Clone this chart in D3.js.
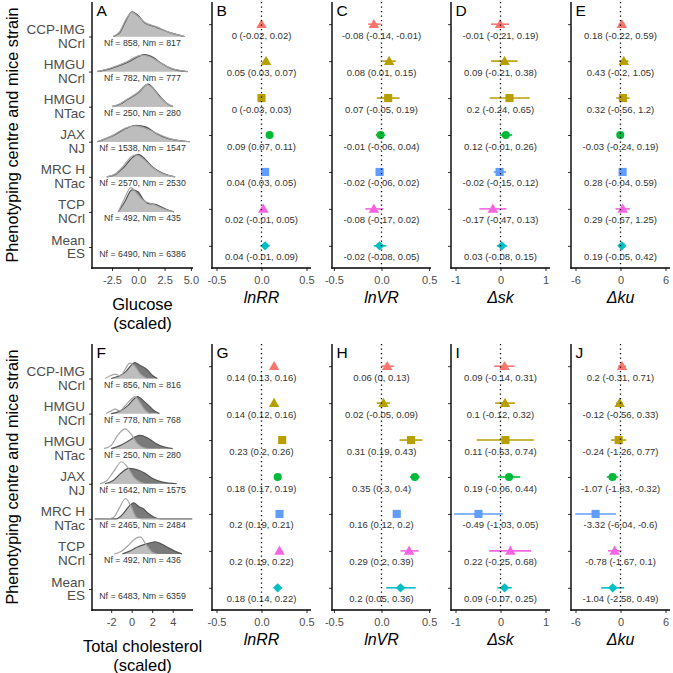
<!DOCTYPE html>
<html><head><meta charset="utf-8">
<script src="https://cdn.jsdelivr.net/npm/d3@7"></script>
<style>body{margin:0;background:#fff} text{font-family:"Liberation Sans",Arial,Helvetica,sans-serif}</style>
</head><body><svg id="c" width="673" height="673"></svg>
<script>
// ---------------- DATA ----------------
const rowLabels = [["CCP-IMG","NCrl"],["HMGU","NCrl"],["HMGU","NTac"],["JAX","NJ"],["MRC H","NTac"],["TCP","NCrl"],["Mean","ES"]];
const rowColors = ["#F8766D","#B79F00","#B79F00","#00BA38","#619CFF","#F564E3","#00BFC4"];
const rowShapes = ["triangle","triangle","square","circle","square","triangle","diamond"];

const glucoseN = ["Nf = 858, Nm = 817","Nf = 782, Nm = 777","Nf = 250, Nm = 280","Nf = 1538, Nm = 1547","Nf = 2570, Nm = 2530","Nf = 492, Nm = 435","Nf = 6490, Nm = 6386"];
const cholN = ["Nf = 856, Nm = 816","Nf = 778, Nm = 768","Nf = 250, Nm = 280","Nf = 1642, Nm = 1575","Nf = 2465, Nm = 2484","Nf = 492, Nm = 436","Nf = 6483, Nm = 6359"];

// density curves: [x, density]
const glucoseDensF = [
  [[-2.4,0],[-1.8,0.08],[-1.2,0.3],[-0.6,0.44],[0,0.36],[0.6,0.26],[1.7,0.18],[3.0,0.07],[4.4,0]],
  [[-3.9,0],[-2.7,0.06],[-1.1,0.18],[0.3,0.3],[1.2,0.26],[2.0,0.17],[3.0,0.07],[4.7,0]],
  [[-2.5,0],[-1.8,0.05],[-1.1,0.13],[0.1,0.28],[0.8,0.4],[1.4,0.33],[2.0,0.18],[2.7,0.06],[3.3,0]],
  [[-3.9,0],[-2.4,0.12],[-1.2,0.25],[-0.3,0.29],[0.6,0.25],[1.7,0.16],[2.8,0.07],[3.6,0.03],[4.9,0]],
  [[-3.0,0],[-2.2,0.05],[-1.4,0.2],[-0.7,0.36],[-0.2,0.4],[0.4,0.34],[1.4,0.16],[2.4,0.05],[3.5,0]],
  [[-1.9,0],[-1.3,0.25],[-0.7,0.44],[-0.2,0.35],[0.4,0.22],[0.9,0.17],[1.5,0.13],[2.1,0.08],[2.8,0.03],[3.4,0]],
  null
];
const glucoseDensM = [
  [[-2.4,0],[-1.8,0.06],[-1.2,0.28],[-0.6,0.45],[0,0.38],[0.6,0.25],[1.7,0.17],[3.0,0.07],[4.4,0]],
  [[-3.9,0],[-2.7,0.05],[-1.1,0.16],[0.6,0.31],[1.4,0.26],[2.2,0.15],[3.2,0.05],[4.7,0]],
  [[-2.5,0],[-1.8,0.04],[-1.1,0.12],[0.1,0.27],[0.9,0.41],[1.5,0.32],[2.0,0.2],[2.7,0.06],[3.3,0]],
  [[-3.9,0],[-2.4,0.11],[-1.2,0.24],[-0.2,0.3],[0.7,0.27],[1.7,0.15],[2.8,0.06],[3.6,0.03],[4.9,0]],
  [[-3.0,0],[-2.2,0.04],[-1.4,0.17],[-0.5,0.36],[0.0,0.41],[0.6,0.33],[1.4,0.17],[2.4,0.06],[3.5,0]],
  [[-1.9,0],[-1.3,0.18],[-0.6,0.4],[0,0.36],[0.5,0.22],[1.0,0.15],[1.6,0.14],[2.2,0.09],[2.9,0.03],[3.4,0]],
  null
];
const cholDensF = [
  [[-2.6,0],[-2.2,0.04],[-1.6,0.08],[-1.1,0.05],[-0.6,0.18],[-0.2,0.28],[0.4,0.2],[0.8,0.09],[1.5,0]],
  [[-2.5,0],[-2.0,0.05],[-1.6,0.08],[-1.2,0.05],[-0.6,0.15],[0,0.27],[0.3,0.31],[0.8,0.2],[1.3,0.06],[1.8,0]],
  [[-2.7,0],[-2.0,0.06],[-1.3,0.26],[-0.65,0.36],[0,0.25],[0.5,0.1],[1.0,0.03],[1.6,0]],
  [[-3.1,0],[-2.4,0.06],[-1.7,0.24],[-1.0,0.4],[-0.4,0.3],[0.2,0.12],[0.8,0.03],[1.4,0]],
  [[-3.6,0],[-2.4,0],[-1.75,0.03],[-1.2,0.2],[-0.6,0.37],[-0.1,0.24],[0.5,0.02],[1.0,0],[5.9,0]],
  [[-1.7,0],[-1.0,0.05],[-0.3,0.16],[0.3,0.27],[0.85,0.31],[1.4,0.17],[2.0,0.03],[2.5,0]],
  null
];
const cholDensM = [
  [[-2.0,0],[-1.3,0.04],[-0.6,0.12],[0,0.25],[0.3,0.29],[0.8,0.24],[1.5,0.16],[2.0,0.06],[2.5,0]],
  [[-2.0,0],[-1.2,0.04],[-0.4,0.14],[0.3,0.28],[0.6,0.31],[1.1,0.24],[1.7,0.14],[2.2,0.05],[2.7,0]],
  [[-2.0,0],[-1.2,0.05],[-0.4,0.13],[0.3,0.21],[0.8,0.24],[1.5,0.2],[2.3,0.1],[3.2,0.03],[4.0,0]],
  [[-2.6,0],[-1.8,0.06],[-1.0,0.2],[-0.3,0.28],[0.4,0.26],[1.2,0.2],[2.0,0.1],[3.0,0.03],[4.4,0]],
  [[-3.6,0],[-1.5,0],[-0.8,0.1],[-0.2,0.24],[0.2,0.29],[0.7,0.22],[1.1,0.19],[1.6,0.1],[2.2,0.03],[2.8,0],[5.9,0]],
  [[-0.9,0],[-0.2,0.05],[0.5,0.12],[1.2,0.17],[1.8,0.2],[2.3,0.22],[2.9,0.18],[3.5,0.12],[4.2,0.05],[4.9,0]],
  null
];

// forest estimates [estimate, lower, upper]
const gluLnRR = [[0,-0.02,0.02],[0.05,0.03,0.07],[0,-0.03,0.03],[0.09,0.07,0.11],[0.04,0.03,0.05],[0.02,-0.01,0.05],[0.04,-0.01,0.09]];
const gluLnVR = [[-0.08,-0.14,-0.01],[0.08,0.01,0.15],[0.07,-0.05,0.19],[-0.01,-0.06,0.04],[-0.02,-0.06,0.02],[-0.08,-0.17,0.02],[-0.02,-0.08,0.05]];
const gluDsk  = [[-0.01,-0.21,0.19],[0.09,-0.21,0.38],[0.2,-0.24,0.65],[0.12,-0.01,0.26],[-0.02,-0.15,0.12],[-0.17,-0.47,0.13],[0.03,-0.08,0.15]];
const gluDku  = [[0.18,-0.22,0.59],[0.43,-0.2,1.05],[0.32,-0.56,1.2],[-0.03,-0.24,0.19],[0.28,-0.04,0.59],[0.29,-0.67,1.25],[0.19,-0.05,0.42]];
const cholLnRR = [[0.14,0.13,0.16],[0.14,0.12,0.16],[0.23,0.2,0.26],[0.18,0.17,0.19],[0.2,0.19,0.21],[0.2,0.19,0.22],[0.18,0.14,0.22]];
const cholLnVR = [[0.06,0,0.13],[0.02,-0.05,0.09],[0.31,0.19,0.43],[0.35,0.3,0.4],[0.16,0.12,0.2],[0.29,0.2,0.39],[0.2,0.05,0.36]];
const cholDsk  = [[0.09,-0.14,0.31],[0.1,-0.12,0.32],[0.11,-0.53,0.74],[0.19,-0.06,0.44],[-0.49,-1.03,0.05],[0.22,-0.25,0.68],[0.09,-0.07,0.25]];
const cholDku  = [[0.2,-0.31,0.71],[-0.12,-0.56,0.33],[-0.24,-1.26,0.77],[-1.07,-1.83,-0.32],[-3.32,-6.04,-0.6],[-0.78,-1.67,0.1],[-1.04,-2.58,0.49]];

const forestTitles = ["lnRR","lnVR","\u0394sk","\u0394ku"];
const forestDomains = [[-0.55,0.55],[-0.52,0.52],[-1.1,1.1],[-6.6,6.6]];
const forestTicks = [[-0.5,0,0.5],[-0.5,0,0.5],[-1,0,1],[-6,0,6]];
const forestDecimals = [1,1,0,0];
const gluTicks = [-2.5,0,2.5,5];
const cholTicks = [-2,0,2,4];

// ---------------- LAYOUT ----------------
const svg = d3.select("#c");
const rows = rowLabels.map(d => d.join(" "));
const ridgeLeft = 92, ridgeRight = 193;
const forestLefts = [212, 332, 451, 571];
const forestWidth = 99;
const axisCol = "#000", tickTextCol = "#4d4d4d";

function fmt(v){ return v.toString(); }

function axisLines(g, x0, x1, top, bottom){
  g.append("line").attr("x1",x0).attr("x2",x0).attr("y1",top).attr("y2",bottom+0.7)
    .attr("stroke",axisCol).attr("stroke-width",1.4);
  g.append("line").attr("x1",x0-0.7).attr("x2",x1).attr("y1",bottom).attr("y2",bottom)
    .attr("stroke",axisCol).attr("stroke-width",1.4);
}
function styleAxis(sel){
  sel.select(".domain").remove();
  sel.selectAll(".tick line").attr("stroke","#333").attr("stroke-width",1);
  sel.selectAll(".tick text").attr("fill",tickTextCol).attr("font-size",11)
     .attr("font-family",'"Liberation Sans",Arial,sans-serif');
}

function shapePath(shape){
  if (shape==="triangle") return d3.symbol(d3.symbolTriangle, 48)();
  if (shape==="square") return d3.symbol(d3.symbolSquare, 66)();
  if (shape==="circle") return d3.symbol(d3.symbolCircle, 52)();
  return null;
}

function ridgePanel(top, bottom, domain, ticks, tickDec, densF, densM, nText, titleLines, letter){
  const g = svg.append("g");
  const x = d3.scaleLinear().domain(domain).range([ridgeLeft, ridgeRight]);
  const y = d3.scalePoint().domain(rows).range([top+34.5, bottom-21]);
  const h = d3.scaleLinear().domain([0,1]).range([0,55]);
  rows.forEach((r,i)=>{
    const base = y(r);
    const area = d3.area().curve(d3.curveMonotoneX).x(p=>x(p[0])).y0(base).y1(p=>base-h(p[1]));
    const line = d3.line().curve(d3.curveMonotoneX).x(p=>x(p[0])).y(p=>base-h(p[1]));
    if (densM[i]) g.append("path").attr("d",area(densM[i])).attr("fill","#7a7a7a");
    if (densF[i]) g.append("path").attr("d",area(densF[i])).attr("fill","#fff").attr("fill-opacity",0.5);
    if (densM[i]) g.append("path").attr("d",line(densM[i])).attr("fill","none").attr("stroke","#555").attr("stroke-width",1.2);
    if (densF[i]) g.append("path").attr("d",line(densF[i])).attr("fill","none").attr("stroke","#a5a5a5").attr("stroke-width",1.2);
  });
  rows.forEach((r,i)=>{
    g.append("text").attr("x",(ridgeLeft+ridgeRight)/2).attr("y",y(r)+9.5)
      .attr("text-anchor","middle").attr("font-size",8.8).attr("fill","#333").text(nText[i]);
    g.append("text").attr("x",85).attr("y",y(r)-2.5).attr("text-anchor","end")
      .attr("font-size",13.5).attr("fill",tickTextCol).text(rowLabels[i][0]);
    g.append("text").attr("x",85).attr("y",y(r)+11.3).attr("text-anchor","end")
      .attr("font-size",13.5).attr("fill",tickTextCol).text(rowLabels[i][1]);
  });
  const ay = g.append("g").attr("transform",`translate(${ridgeLeft},0)`)
    .call(d3.axisLeft(y).tickSize(3).tickFormat(""));
  styleAxis(ay);
  const ax = g.append("g").attr("transform",`translate(0,${bottom})`)
    .call(d3.axisBottom(x).tickValues(ticks).tickSize(3).tickPadding(5).tickFormat(v=>v.toFixed(tickDec)));
  styleAxis(ax);
  axisLines(g, ridgeLeft, ridgeRight, top, bottom);
  titleLines.forEach((t,k)=>{
    g.append("text").attr("x",(ridgeLeft+ridgeRight)/2).attr("y",bottom+41.5+k*19)
      .attr("text-anchor","middle").attr("font-size",16.5).attr("fill","#000").text(t);
  });
  g.append("text").attr("x",ridgeLeft+4.5).attr("y",top+13.5).attr("font-size",15.5).attr("fill","#000").text(letter);
  svg.append("text").attr("transform",`translate(18,${(top+bottom)/2}) rotate(-90)`)
    .attr("text-anchor","middle").attr("font-size",16.3).attr("fill","#000")
    .text("Phenotyping centre and mice strain");
}

function forestPanel(k, top, bottom, data, letter){
  const g = svg.append("g");
  const left = forestLefts[k], right = left + forestWidth;
  const x = d3.scaleLinear().domain(forestDomains[k]).range([left, right]);
  const y = d3.scalePoint().domain(rows).range([top, bottom]).padding(0.6);
  data.forEach((d,i)=>{
    const yy = y(rows[i]);
    g.append("line").attr("x1",x(d[1])).attr("x2",x(d[2])).attr("y1",yy).attr("y2",yy)
      .attr("stroke",rowColors[i]).attr("stroke-width",1.6);
    if (rowShapes[i]==="diamond"){
      g.append("path").attr("d",d3.symbol(d3.symbolSquare,44)())
        .attr("transform",`translate(${x(d[0])},${yy}) rotate(45)`).attr("fill",rowColors[i]);
    } else {
      const dy = rowShapes[i]==="triangle" ? 0.8 : 0;
      g.append("path").attr("d",shapePath(rowShapes[i]))
        .attr("transform",`translate(${x(d[0])},${yy+dy})`).attr("fill",rowColors[i]);
    }
    g.append("text").attr("x",x(0)).attr("y",yy+14.5).attr("text-anchor","middle")
      .attr("font-size",9.5).attr("fill","#333")
      .text(`${fmt(d[0])} (${fmt(d[1])}, ${fmt(d[2])})`);
  });
  g.append("line").attr("x1",x(0)).attr("x2",x(0)).attr("y1",top).attr("y2",bottom)
    .attr("stroke","#000").attr("stroke-width",1.3).attr("stroke-dasharray","1.3,3.2");
  const ay = g.append("g").attr("transform",`translate(${left},0)`)
    .call(d3.axisLeft(y).tickSize(3).tickFormat(""));
  styleAxis(ay);
  const ax = g.append("g").attr("transform",`translate(0,${bottom})`)
    .call(d3.axisBottom(x).tickValues(forestTicks[k]).tickSize(3).tickPadding(5)
      .tickFormat(v=>v.toFixed(forestDecimals[k])));
  styleAxis(ax);
  axisLines(g, left, right, top, bottom);
  g.append("text").attr("x",(left+right)/2).attr("y",bottom+34.5).attr("text-anchor","middle")
    .attr("font-size",16).attr("font-style","italic").attr("fill","#000").text(forestTitles[k]);
  g.append("text").attr("x",left+4.5).attr("y",top+13.5).attr("font-size",15.5).attr("fill","#000").text(letter);
}

// top row
const T1 = 2, B1 = 268, T2 = 344, B2 = 610;
ridgePanel(T1, B1, [-4.4,5.2], gluTicks, 1, glucoseDensF, glucoseDensM, glucoseN, ["Glucose","(scaled)"], "A");
[gluLnRR, gluLnVR, gluDsk, gluDku].forEach((d,k)=>forestPanel(k, T1, B1, d, "BCDE"[k]));
ridgePanel(T2, B2, [-3.87,5.98], cholTicks, 0, cholDensF, cholDensM, cholN, ["Total cholesterol","(scaled)"], "F");
[cholLnRR, cholLnVR, cholDsk, cholDku].forEach((d,k)=>forestPanel(k, T2, B2, d, "GHIJ"[k]));
</script></body></html>
